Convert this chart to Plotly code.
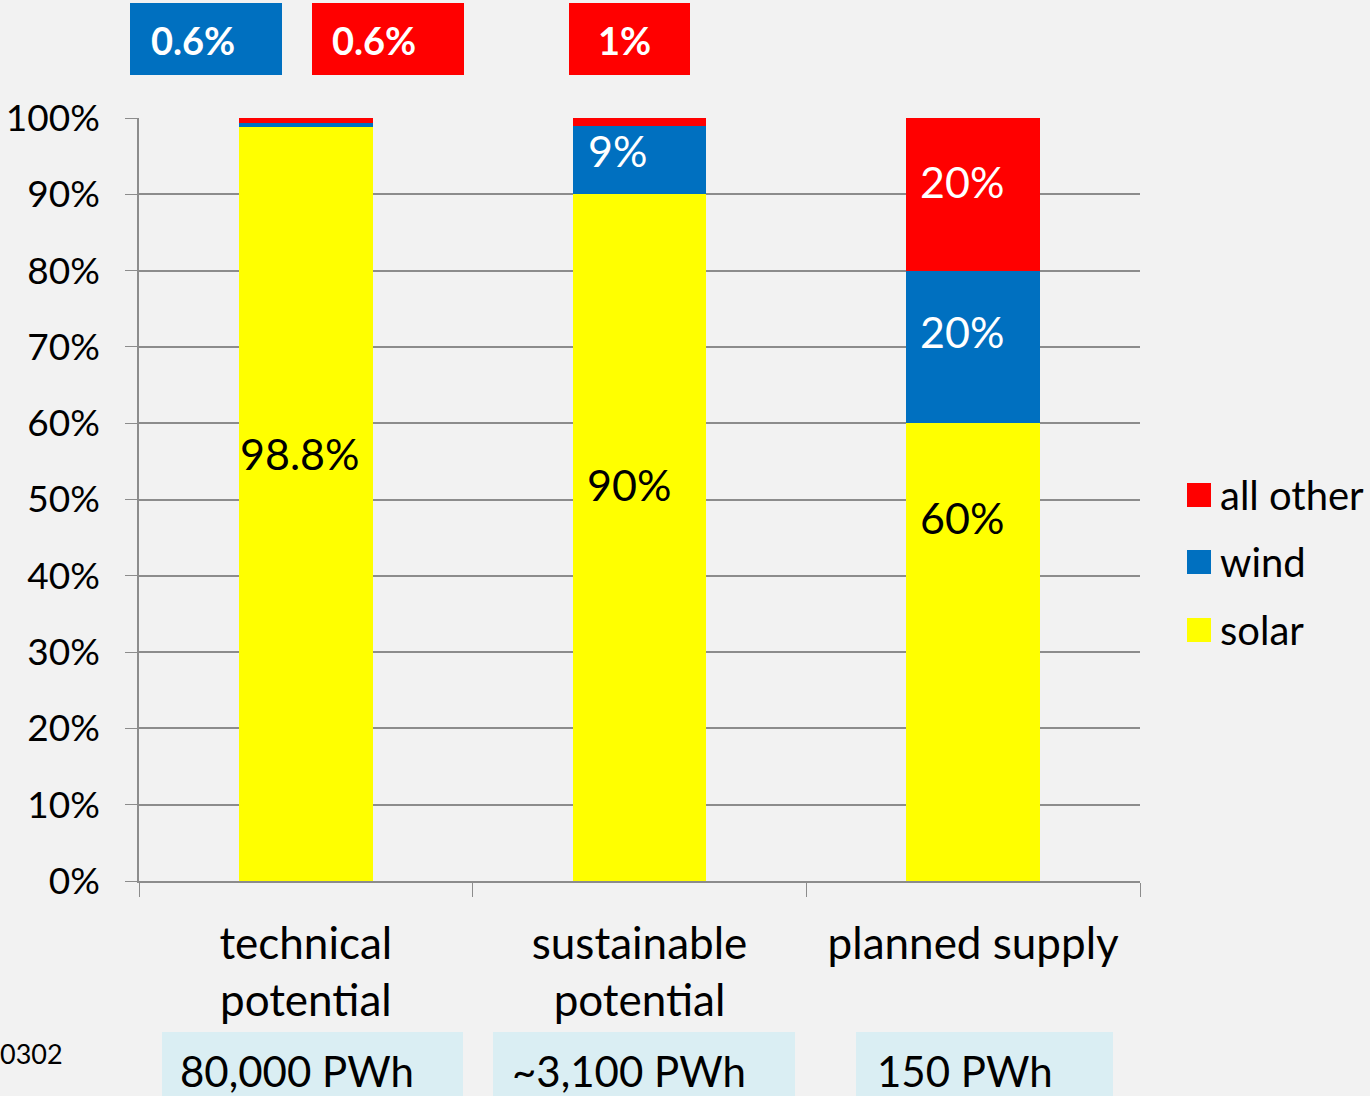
import plotly.graph_objects as go

# Share of each energy source in the three supply scenarios (percent)
categories = ["technical<br>potential", "sustainable<br>potential", "planned supply"]
solar = [98.8, 90, 60]
wind = [0.6, 9, 20]
all_other = [0.6, 1, 20]

# Annual energy behind each scenario
energy_labels = ["80,000 PWh", "~3,100 PWh", "150 PWh"]

y_ticks = list(range(0, 101, 10))
y_tick_text = [f"{v}%" for v in y_ticks]

YELLOW = "#ffff00"
BLUE = "#0070c0"
RED = "#ff0000"
BG = "#f2f2f2"
FONT = "Lato"


def pct(v):
    return f"{v:g}%"


series = [("solar", solar, YELLOW), ("wind", wind, BLUE), ("all other", all_other, RED)]

fig = go.Figure()
for name, vals, col in series:
    fig.add_trace(go.Bar(name=name, x=categories, y=vals, marker_color=col,
                         marker_line_width=0, hoverinfo="skip", showlegend=False))

# in-bar value labels (y = where the label sits inside its segment)
inside = [
    (0, solar[0], 56, "black", -6),
    (1, wind[1], 95.8, "white", -22),
    (1, solar[1], 52, "black", -11),
    (2, all_other[2], 91.7, "white", -11),
    (2, wind[2], 72, "white", -11),
    (2, solar[2], 47.7, "black", -11),
]
for ci, val, ypos, col, shift in inside:
    fig.add_annotation(x=categories[ci], y=ypos, xref="x", yref="y", text=pct(val),
                       showarrow=False, xshift=shift,
                       font=dict(family=FONT, size=43, color=col))

# plot-area geometry in pixels, used to place the boxes outside the axes
L, R, T, B = 139, 1140, 118, 881


def px(x):
    return (x - L) / (R - L)


def py(y):
    return (B - y) / (B - T)


# small-share callouts above the bars
callouts = [
    (130, 282, BLUE, pct(wind[0]), 149),
    (312, 464, RED, pct(all_other[0]), 330),
    (569, 690, RED, pct(all_other[1]), 596),
]
for x0, x1, col, txt, tx in callouts:
    fig.add_shape(type="rect", xref="paper", yref="paper", x0=px(x0), x1=px(x1),
                  y0=py(75), y1=py(3), fillcolor=col, line_width=0, layer="above")
    fig.add_annotation(xref="paper", yref="paper", x=px(tx), y=py(40), xanchor="left",
                       yanchor="middle", text=f"<b>{txt}</b>", showarrow=False,
                       font=dict(family=FONT, size=38, color="white"))

# energy totals under the category labels
totals = [(162, 463, 178), (493, 795, 510), (856, 1113, 875)]
for (x0, x1, tx), txt in zip(totals, energy_labels):
    fig.add_shape(type="rect", xref="paper", yref="paper", x0=px(x0), x1=px(x1),
                  y0=py(1100), y1=py(1032), fillcolor="#daeef3", line_width=0,
                  layer="above")
    fig.add_annotation(xref="paper", yref="paper", x=px(tx), y=py(1071), xanchor="left",
                       yanchor="middle", text=txt, showarrow=False,
                       font=dict(family=FONT, size=42, color="black"))

fig.add_annotation(xref="paper", yref="paper", x=px(-2), y=py(1053), xanchor="left",
                   yanchor="middle", text="0302", showarrow=False,
                   font=dict(family=FONT, size=27, color="black"))

# legend: colour square plus label, top entry first
legend_rows = [("all other", RED, 495), ("wind", BLUE, 562), ("solar", YELLOW, 630)]
for name, col, yc in legend_rows:
    fig.add_shape(type="rect", xref="paper", yref="paper", x0=px(1187), x1=px(1211),
                  y0=py(yc + 12), y1=py(yc - 12), fillcolor=col, line_width=0)
    fig.add_annotation(xref="paper", yref="paper", x=px(1218), y=py(yc), xanchor="left",
                       yanchor="middle", text=name, showarrow=False,
                       font=dict(family=FONT, size=40, color="black"))

fig.update_layout(
    barmode="stack",
    bargap=0.6,
    width=1370,
    height=1096,
    margin=dict(l=L, r=1370 - R, t=T, b=1096 - B, pad=0, autoexpand=False),
    paper_bgcolor=BG,
    plot_bgcolor=BG,
    font=dict(family=FONT, color="black"),
    showlegend=False,
)

fig.update_yaxes(
    range=[0, 100],
    tickvals=y_ticks,
    ticktext=y_tick_text,
    tickfont=dict(family=FONT, size=37),
    ticklabelstandoff=18,
    automargin=False,
    showgrid=True,
    gridcolor="#8c8c8c",
    gridwidth=1.5,
    showline=True,
    linecolor="#8c8c8c",
    linewidth=1.5,
    ticks="outside",
    ticklen=12,
    tickcolor="#8c8c8c",
    zeroline=False,
    fixedrange=True,
)

fig.update_xaxes(
    type="category",
    tickfont=dict(family=FONT, size=44),
    ticklabelstandoff=23,
    automargin=False,
    showline=True,
    linecolor="#8c8c8c",
    linewidth=1.5,
    ticks="outside",
    tickson="boundaries",
    ticklen=14,
    tickcolor="#8c8c8c",
    fixedrange=True,
)

fig.write_html("out.html")
